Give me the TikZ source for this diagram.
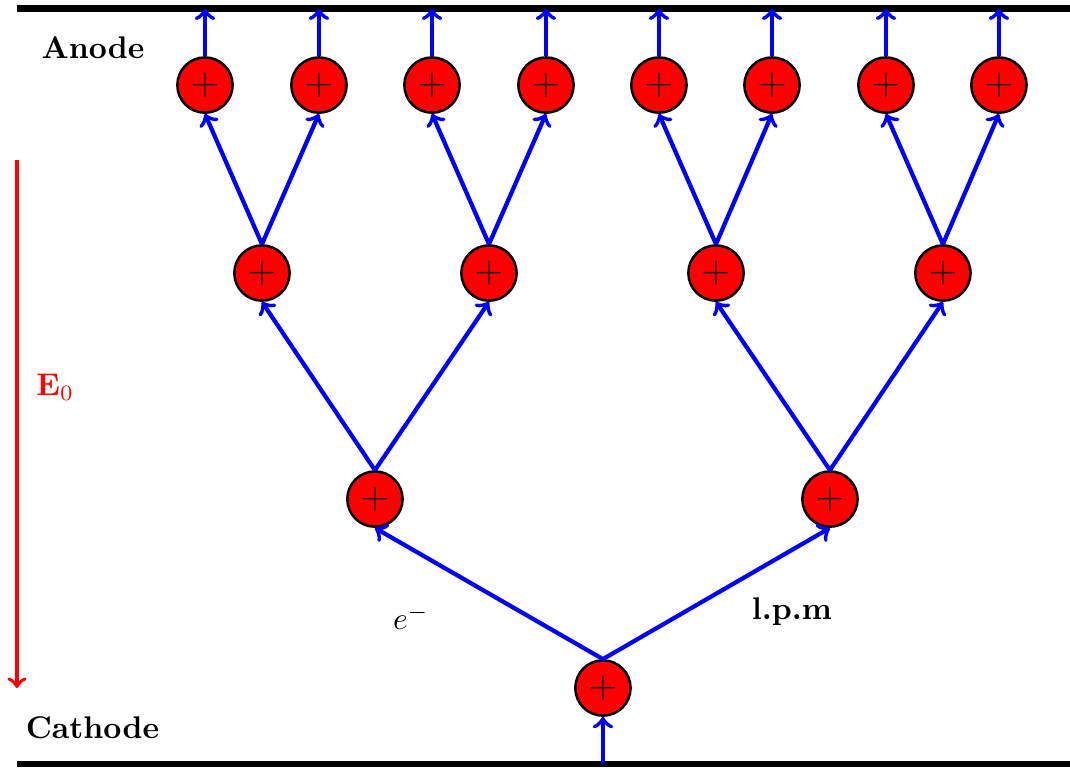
\documentclass[tikz,border=0pt]{standalone}
\begin{document}
\begin{tikzpicture}[
    ->, % Arrow style
    > = to, % arrow head style
    very thick, % line style
    auto
  ]

  \tikzstyle{ion}=[circle,draw=black,thick,fill=red,minimum size=0.62cm,inner sep=0pt,font=\large]
  \tikzstyle{ray}=[blue,line width=1.35pt]
  \tikzstyle{plate}=[-,black,line width=2pt]
  \tikzstyle{lbl}=[font=\bfseries]

  \useasboundingbox (0,0) rectangle (12,8.602);

  % electrodes
  \coordinate (anL) at (0.19,8.506);
  \coordinate (anR) at (12,8.506);
  \coordinate (caL) at (0.19,0.034);
  \coordinate (caR) at (12,0.034);
  \draw[plate] (anL) -- (anR);
  \draw[plate] (caL) -- (caR);
  \node[lbl] (anode) at (1.043,8.063) {Anode};
  \node[lbl] (cathode) at (1.037,0.437) {Cathode};

  % field
  \coordinate (etop) at (0.19,6.807);
  \coordinate (ebot) at (0.19,0.886);
  \draw[red] (etop) -- (ebot);
  \node[red] (efield) at (0.62,4.262) {$\mathbf{E}_0$};

  % avalanche
  \node[ion] (root) at (6.762,0.886) {$+$};
  \node[ion] (a1) at (4.205,3.005) {$+$};
  \node[ion] (a2) at (9.308,3.005) {$+$};
  \node[ion] (b1) at (2.938,5.540) {$+$};
  \node[ion] (b2) at (5.484,5.540) {$+$};
  \node[ion] (b3) at (8.030,5.540) {$+$};
  \node[ion] (b4) at (10.575,5.540) {$+$};
  \node[ion] (c1) at (2.299,7.648) {$+$};
  \node[ion] (c2) at (3.577,7.648) {$+$};
  \node[ion] (c3) at (4.845,7.648) {$+$};
  \node[ion] (c4) at (6.123,7.648) {$+$};
  \node[ion] (c5) at (7.390,7.648) {$+$};
  \node[ion] (c6) at (8.658,7.648) {$+$};
  \node[ion] (c7) at (9.936,7.648) {$+$};
  \node[ion] (c8) at (11.203,7.648) {$+$};

  \draw[ray] (root.south |- caL) -- (root.south);
  \draw[ray] (root.north) -- (a1.south);
  \draw[ray] (root.north) -- (a2.south);
  \draw[ray] (a1.north) -- (b1.south);
  \draw[ray] (a1.north) -- (b2.south);
  \draw[ray] (a2.north) -- (b3.south);
  \draw[ray] (a2.north) -- (b4.south);
  \draw[ray] (b1.north) -- (c1.south);
  \draw[ray] (b1.north) -- (c2.south);
  \draw[ray] (b2.north) -- (c3.south);
  \draw[ray] (b2.north) -- (c4.south);
  \draw[ray] (b3.north) -- (c5.south);
  \draw[ray] (b3.north) -- (c6.south);
  \draw[ray] (b4.north) -- (c7.south);
  \draw[ray] (b4.north) -- (c8.south);
  \draw[ray] (c1.north) -- (c1.north |- anL);
  \draw[ray] (c2.north) -- (c2.north |- anL);
  \draw[ray] (c3.north) -- (c3.north |- anL);
  \draw[ray] (c4.north) -- (c4.north |- anL);
  \draw[ray] (c5.north) -- (c5.north |- anL);
  \draw[ray] (c6.north) -- (c6.north |- anL);
  \draw[ray] (c7.north) -- (c7.north |- anL);
  \draw[ray] (c8.north) -- (c8.north |- anL);

  \node (elec) at (4.609,1.682) {$e^-$};
  \node[lbl] (lpm) at (8.882,1.738) {l.p.m};

\end{tikzpicture}
\end{document}
